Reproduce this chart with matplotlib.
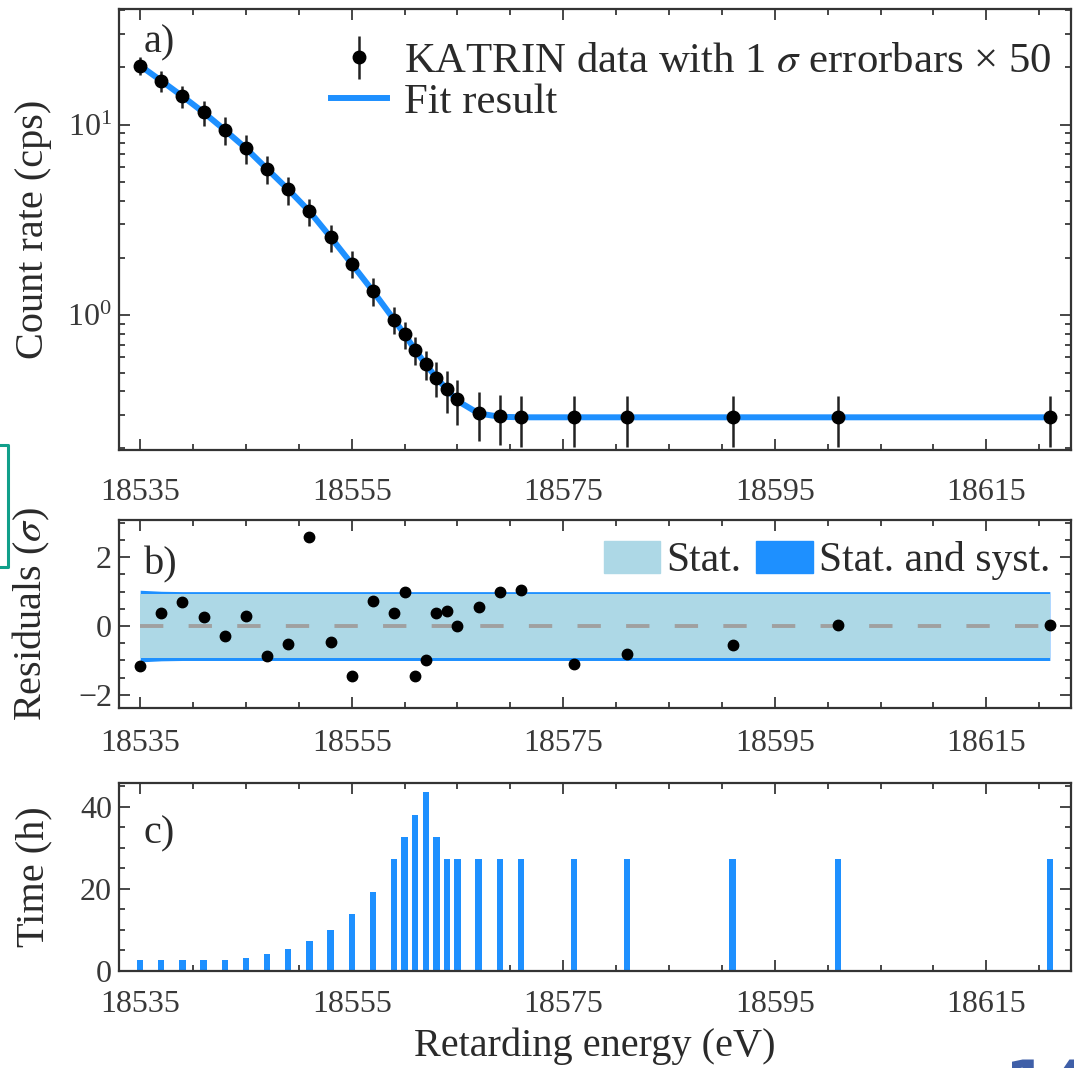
import matplotlib
matplotlib.use('Agg')
import matplotlib.pyplot as plt
from matplotlib.patches import Patch
from matplotlib.lines import Line2D
from matplotlib.ticker import NullFormatter

# scan steps: retarding energy (eV)
energy = [18535, 18537, 18539, 18541, 18543, 18545, 18547, 18549, 18551, 18553,
          18555, 18557, 18559, 18560, 18561, 18562, 18563, 18564, 18565, 18567,
          18569, 18571, 18576, 18581, 18591, 18601, 18621]

# count rate (cps) and 1 sigma errors (already x 50)
rate = [20.4, 17.0, 14.1, 11.6, 9.38, 7.52, 5.86, 4.57, 3.51, 2.57,
        1.86, 1.34, 0.948, 0.792, 0.656, 0.552, 0.470, 0.408, 0.362, 0.308,
        0.294, 0.291, 0.291, 0.291, 0.291, 0.291, 0.291]
rate_err = [2.27, 2.07, 1.89, 1.71, 1.54, 1.28, 0.98, 0.77, 0.58, 0.42,
            0.30, 0.22, 0.156, 0.13, 0.109, 0.094, 0.10, 0.102, 0.096, 0.089,
            0.087, 0.087, 0.087, 0.087, 0.087, 0.087, 0.087]
fit_rate = [20.4, 17.0, 14.1, 11.6, 9.38, 7.52, 5.86, 4.57, 3.51, 2.57,
            1.86, 1.34, 0.948, 0.792, 0.656, 0.552, 0.470, 0.408, 0.355, 0.305,
            0.293, 0.291, 0.291, 0.291, 0.291, 0.291, 0.291]

# normalised residuals (sigma) and the 1 sigma bands
residuals = [-1.15, 0.38, 0.70, 0.27, -0.29, 0.29, -0.88, -0.52, 2.60, -0.47,
             -1.45, 0.73, 0.38, 1.00, -1.45, -1.00, 0.38, 0.43, 0.00, 0.55,
             0.98, 1.05, -1.10, -0.80, -0.56, 0.03, 0.03]
stat_band = [0.94, 0.94, 0.94, 0.94, 0.94, 0.94, 0.94, 0.94, 0.94, 0.94,
             0.94, 0.94, 0.94, 0.94, 0.94, 0.94, 0.94, 0.94, 0.94, 0.94,
             0.94, 0.94, 0.94, 0.94, 0.94, 0.94, 0.94]
syst_band = [1.04, 1.01, 1.00, 1.00, 1.00, 1.00, 1.00, 1.00, 1.00, 1.00,
             1.00, 1.00, 1.00, 1.00, 1.00, 1.00, 1.00, 1.00, 1.00, 1.00,
             1.00, 1.00, 1.00, 1.00, 1.00, 1.00, 1.00]

# measurement time per scan step (h)
time_h = [2.75, 2.75, 2.75, 2.75, 2.75, 3.2, 4.2, 5.3, 7.35, 9.9,
          13.9, 19.3, 27.2, 32.6, 38.1, 43.6, 32.6, 27.2, 27.2, 27.2,
          27.2, 27.2, 27.2, 27.2, 27.2, 27.2, 27.2]

xticks = [18535, 18555, 18575, 18595, 18615]
xminor = [18540, 18545, 18550, 18560, 18565, 18570, 18580, 18585, 18590,
          18600, 18605, 18610, 18620]

BLUE = '#1e90ff'
LIGHT = '#add8e6'
TEXT = '#2a2a2a'

plt.rcParams['font.family'] = ['Liberation Serif', 'DejaVu Serif']
plt.rcParams['mathtext.fontset'] = 'stix'
plt.rcParams['text.color'] = TEXT
plt.rcParams['axes.labelcolor'] = TEXT
plt.rcParams['xtick.color'] = '#383838'
plt.rcParams['ytick.color'] = '#383838'
plt.rcParams['axes.edgecolor'] = '#333333'


def style_axis(ax, xpad):
    ax.set_xlim(18533, 18623)
    ax.set_xticks(xticks)
    ax.set_xticks(xminor, minor=True)
    ax.set_xticklabels([str(t) for t in xticks])
    ax.tick_params(which='both', direction='in', top=True, right=True,
                   labelsize=23, width=1.3)
    ax.tick_params(which='major', length=8)
    ax.tick_params(which='minor', length=4)
    ax.tick_params(axis='x', which='major', pad=xpad)
    ax.tick_params(axis='y', which='major', pad=5)
    for s in ax.spines.values():
        s.set_linewidth(1.6)
    ax.yaxis.set_label_coords(-0.07, 0.5)


fig = plt.figure(figsize=(10.74, 10.68), dpi=100)
W, H = 1074.0, 1068.0
ax_a = fig.add_axes([119 / W, 1 - 450 / H, 952 / W, 441 / H])
ax_b = fig.add_axes([119 / W, 1 - 708 / H, 952 / W, 188 / H])
ax_c = fig.add_axes([119 / W, 1 - 971 / H, 952 / W, 188 / H])

# a) count rate with fit
ax_a.plot(energy, fit_rate, color=BLUE, lw=4.3, zorder=2, label='Fit result')
ax_a.errorbar(energy, rate, yerr=rate_err, fmt='o', color='black', ms=9,
              ecolor='#222222', elinewidth=1.8, capsize=0, zorder=3,
              label=r'KATRIN data with 1 $\sigma$ errorbars × 50')
ax_a.set_yscale('log')
ax_a.set_ylim(0.196, 40.5)
ax_a.yaxis.set_minor_formatter(NullFormatter())
ax_a.set_ylabel('Count rate (cps)', fontsize=29)
style_axis(ax_a, 20)
h, l = ax_a.get_legend_handles_labels()
ax_a.legend(h[::-1], l[::-1], loc='upper right', bbox_to_anchor=(1.002, 0.973),
            frameon=False, fontsize=30.8, handlelength=1.3, handletextpad=0.4,
            labelspacing=0.05, borderaxespad=0.3, borderpad=0.2)
ax_a.text(0.026, 0.965, 'a)', transform=ax_a.transAxes, fontsize=29,
          va='top', ha='left')

# b) residuals
ax_b.fill_between(energy, [-v for v in syst_band], syst_band, color=BLUE,
                  lw=0, zorder=1)
ax_b.fill_between(energy, [-v for v in stat_band], stat_band, color=LIGHT,
                  lw=0, zorder=2)
ax_b.plot([energy[0], energy[-1]], [0, 0], color='#a0a0a0', lw=2.8,
          dashes=(6, 6.5), zorder=3)
ax_b.plot(energy, residuals, 'o', color='black', ms=7.5, zorder=4)
ax_b.set_ylim(-2.38, 3.08)
ax_b.set_yticks([-2, 0, 2])
ax_b.set_yticks([-2.0, -1.5, -1.0, -0.5, 0.5, 1.0, 1.5, 2.5, 3.0], minor=True)
ax_b.set_ylabel(r'Residuals ($\sigma$)', fontsize=29)
style_axis(ax_b, 15)
ax_b.legend(handles=[Patch(color=LIGHT, label='Stat.'),
                     Patch(color=BLUE, label='Stat. and syst.')],
            loc='upper right', ncol=2, frameon=False, fontsize=30,
            handlelength=1.35, handleheight=0.8, handletextpad=0.15,
            columnspacing=0.35, borderaxespad=0.3, borderpad=0.2)
ax_b.text(0.026, 0.86, 'b)', transform=ax_b.transAxes, fontsize=29,
          va='top', ha='left')

# c) measurement time distribution
ax_c.bar(energy, time_h, width=0.6, color=BLUE, zorder=2)
ax_c.set_ylim(0, 45.8)
ax_c.set_yticks([0, 20, 40])
ax_c.set_yticks([5, 10, 15, 25, 30, 35, 45], minor=True)
ax_c.set_ylabel('Time (h)', fontsize=29)
ax_c.set_xlabel('Retarding energy (eV)', fontsize=29, labelpad=6)
style_axis(ax_c, 14)
ax_c.text(0.026, 0.83, 'c)', transform=ax_c.transAxes, fontsize=29,
          va='top', ha='left')

# slide leftovers: teal bracket at the left edge and page number
teal = '#119f8a'
fig.add_artist(Line2D([0, 8 / W, 8 / W, 0],
                      [1 - 445 / H, 1 - 445 / H, 1 - 567 / H, 1 - 567 / H],
                      color=teal, lw=2.2))
fig.text(1005 / W, 1 - 1059 / H, '14', fontsize=45, fontweight='bold',
         color='#3f5fa8', family='DejaVu Sans', va='top', ha='left')

fig.savefig('out.png', dpi=100)
